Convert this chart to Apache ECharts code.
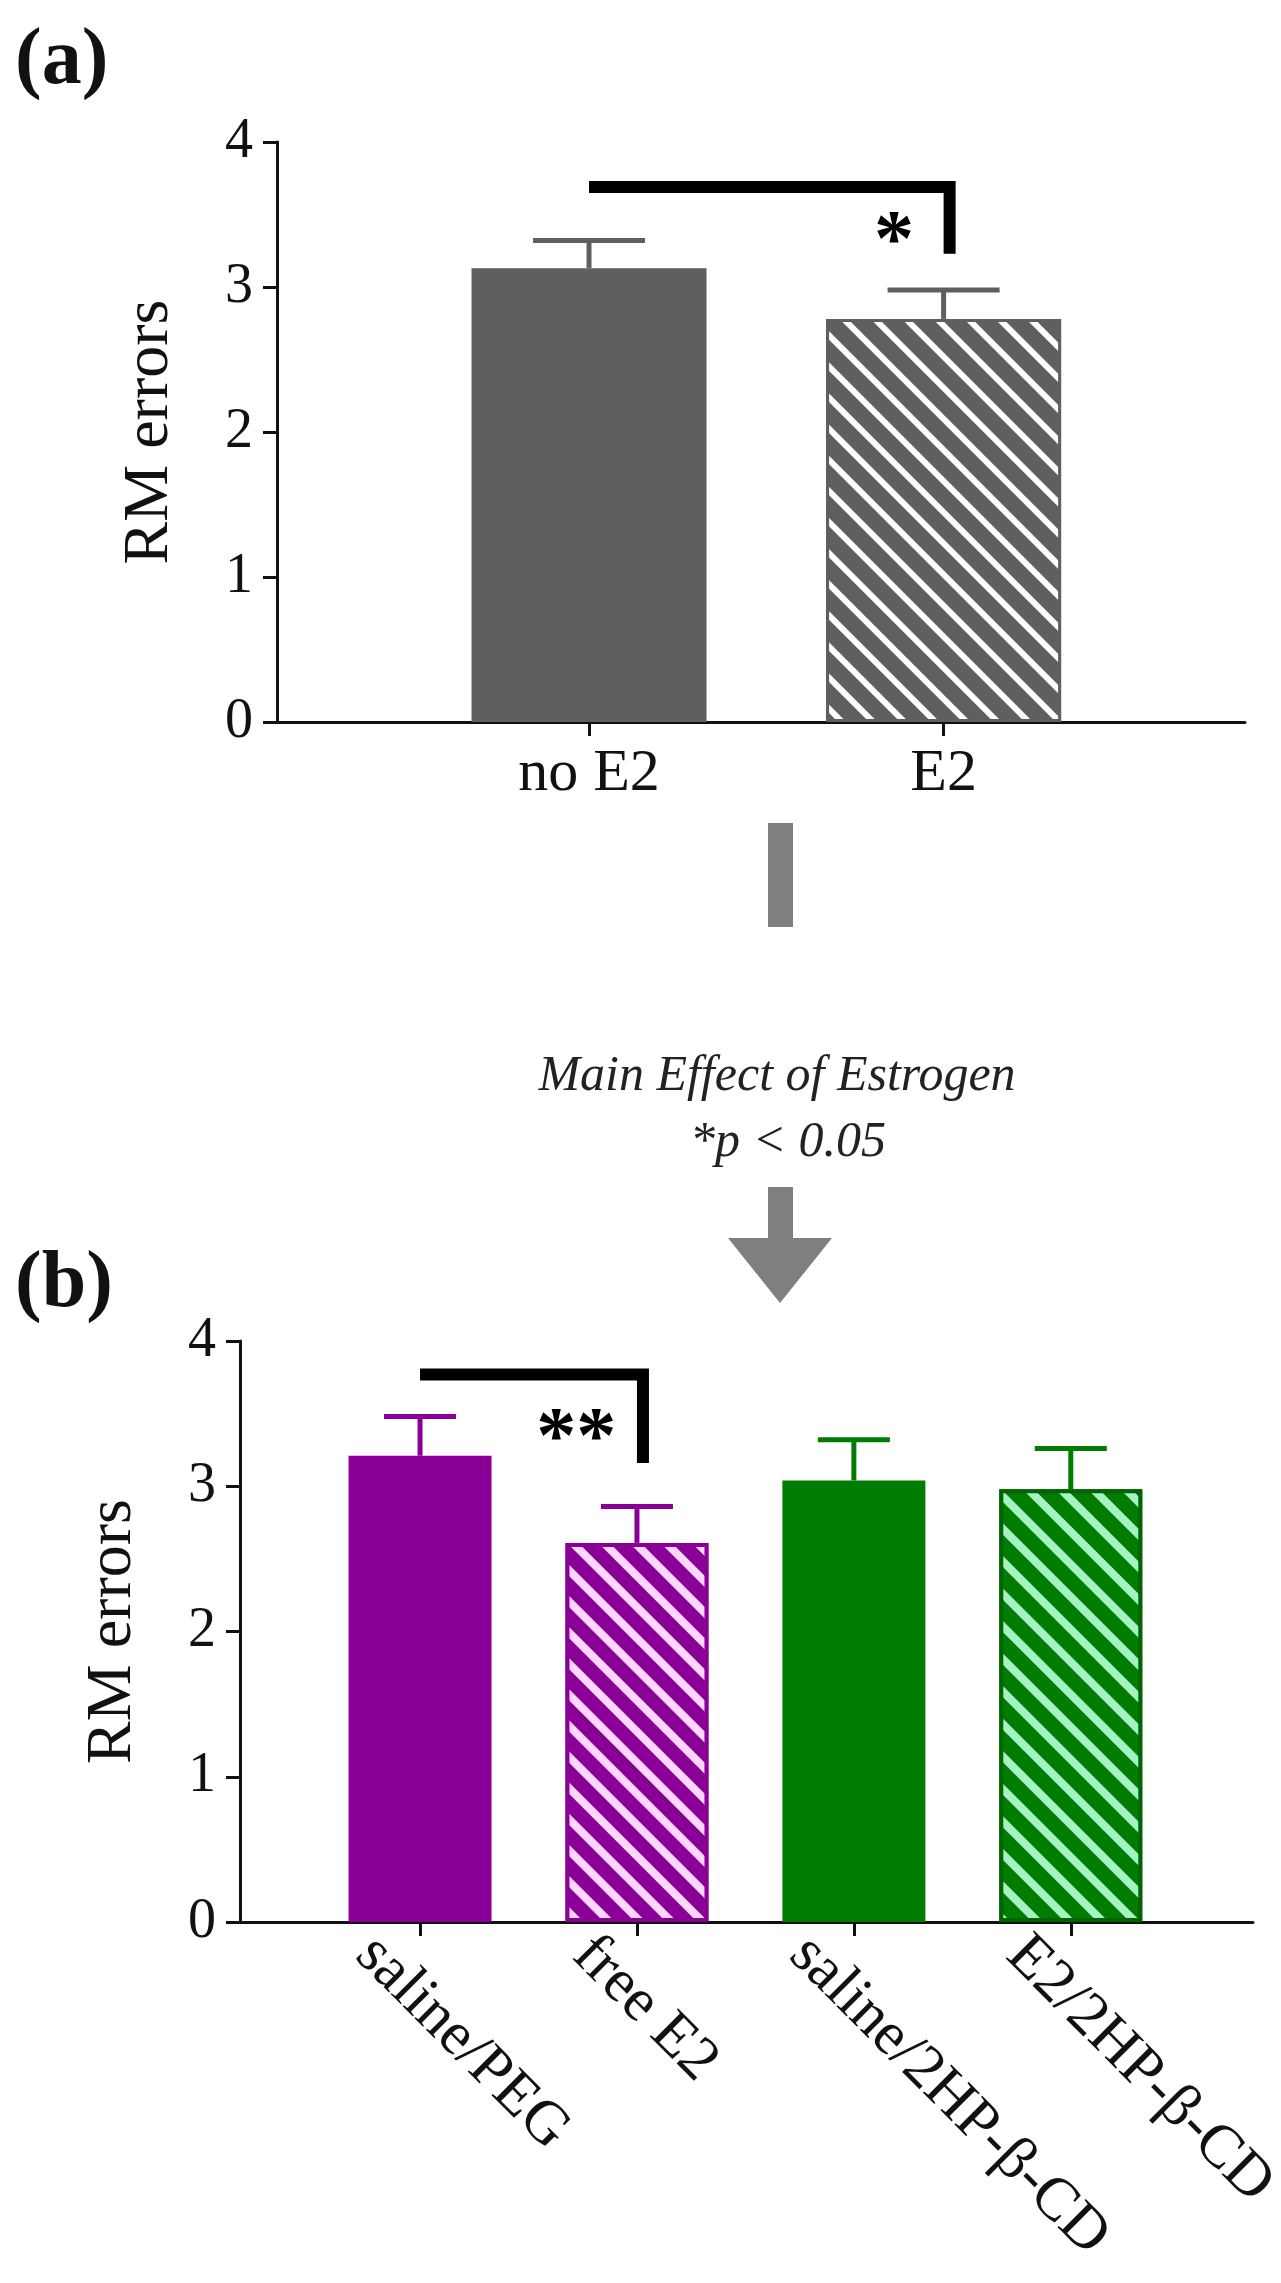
<!DOCTYPE html>
<html>
<head>
<meta charset="utf-8">
<script src="https://cdn.jsdelivr.net/npm/echarts@6/dist/echarts.min.js"></script>
<style>
  html, body { margin: 0; padding: 0; background: #fff; }
  #chart { width: 1281px; height: 2283px; }
</style>
</head>
<body>
<div id="chart"></div>
<script>
// panel (a)
var groupsA = ['no E2', 'E2'];
var meansA = [3.13, 2.78];
var errTopA = [3.32, 2.98];
// bracket: from group, to group, top value, drop value
var bracketA = [0, 1, 3.69, 3.23];
// star: text, x (group units), y
var starA = ['*', 0.86, 3.43];

// panel (b)
var groupsB = ['saline/PEG', 'free E2', 'saline/2HP-β-CD', 'E2/2HP-β-CD'];
var meansB = [3.21, 2.61, 3.04, 2.98];
var errTopB = [3.48, 2.86, 3.32, 3.26];
var bracketB = [0, 1, 3.77, 3.16];
var starB = ['**', 0.72, 3.45];

var yTicks = [0, 1, 2, 3, 4];

var FONT = "'Liberation Serif', 'Times New Roman', serif";
var INK = '#111';
var GRAY = '#5f5f5f', PURPLE = '#8a0096', GREEN = '#007d00', ARROW = '#7f7f7f';

function stripes(color, w, gap) {
	return {
		symbol: 'rect', symbolSize: 1, color: color,
		dashArrayX: [1, 0], dashArrayY: [w, gap],
		rotation: Math.PI / 4
	};
}

var styleA = [
	{ color: GRAY },
	{ color: GRAY, borderColor: GRAY, borderWidth: 3, decal: stripes('#ffffff', 6, 16) }
];
var styleB = [
	{ color: PURPLE },
	{ color: PURPLE, borderColor: PURPLE, borderWidth: 4, decal: stripes('#ffd6ff', 8, 14) },
	{ color: GREEN },
	{ color: GREEN, borderColor: '#006400', borderWidth: 4, decal: stripes('#a6f2c2', 8, 15) }
];
var errColA = [GRAY, GRAY];
var errColB = [PURPLE, PURPLE, GREEN, GREEN];

function idxOf(arr) {
	return arr.map(function (c, i) { return i; });
}

function xAxisFor(gi, cats, min, max, showLabel) {
	return {
		type: 'value', gridIndex: gi, min: min, max: max,
		axisLine: { show: true, onZero: false, lineStyle: { color: INK, width: 3 } },
		axisTick: { show: true, length: 14, customValues: idxOf(cats), lineStyle: { color: INK, width: 3 } },
		axisLabel: {
			show: showLabel, customValues: idxOf(cats),
			formatter: function (v) { return cats[v] || ''; },
			fontFamily: FONT, fontSize: 60, color: INK, margin: 22
		},
		splitLine: { show: false }
	};
}

function yAxisFor(gi) {
	return {
		type: 'value', gridIndex: gi,
		min: yTicks[0], max: yTicks[yTicks.length - 1], interval: yTicks[1] - yTicks[0],
		axisLine: { show: true, onZero: false, lineStyle: { color: INK, width: 3 } },
		axisTick: { show: true, length: 14, lineStyle: { color: INK, width: 3 } },
		axisLabel: { fontFamily: FONT, fontSize: 56, color: INK, margin: 24 },
		splitLine: { show: false },
		name: 'RM errors', nameLocation: 'middle', nameGap: 95, nameRotate: 90,
		nameTextStyle: { fontFamily: FONT, fontSize: 64, color: INK }
	};
}

function barSeries(gi, means, styles, width) {
	return {
		type: 'bar', xAxisIndex: gi, yAxisIndex: gi, barWidth: width, z: 2,
		data: means.map(function (v, i) { return { value: [i, v], itemStyle: styles[i] }; })
	};
}

function errorSeries(gi, means, tops, colors, capHalf) {
	return {
		type: 'custom', xAxisIndex: gi, yAxisIndex: gi, z: 3,
		data: means.map(function (v, i) { return [i, v, tops[i]]; }),
		renderItem: function (params, api) {
			var i = params.dataIndex;
			var base = api.coord([api.value(0), api.value(1)]);
			var top = api.coord([api.value(0), api.value(2)]);
			var st = { stroke: colors[i], lineWidth: 5 };
			return {
				type: 'group',
				children: [
					{ type: 'line', shape: { x1: base[0], y1: base[1], x2: top[0], y2: top[1] }, style: st },
					{ type: 'line', shape: { x1: top[0] - capHalf, y1: top[1], x2: top[0] + capHalf, y2: top[1] }, style: st }
				]
			};
		}
	};
}

function bracketSeries(gi, br, star) {
	return {
		type: 'custom', xAxisIndex: gi, yAxisIndex: gi, z: 4,
		data: [[br[0], br[1], br[2], br[3], star[1], star[2]]],
		renderItem: function (params, api) {
			var a = api.coord([api.value(0), api.value(2)]);
			var b = api.coord([api.value(1), api.value(2)]);
			var c = api.coord([api.value(1), api.value(3)]);
			var s = api.coord([api.value(4), api.value(5)]);
			return {
				type: 'group',
				children: [
					{
						type: 'polyline',
						shape: { points: [a, [b[0] + 6, b[1]], [c[0] + 6, c[1]]] },
						style: { stroke: '#000', lineWidth: 12, fill: null, lineJoin: 'miter' }
					},
					{
						type: 'text', x: s[0], y: s[1] + 20,
						style: { text: star[0], font: 'bold 80px ' + FONT, fill: '#000', align: 'center', verticalAlign: 'middle' }
					}
				]
			};
		}
	};
}

// slanted group names under panel (b)
var labelsB = {
	type: 'custom', xAxisIndex: 1, yAxisIndex: 1, z: 5,
	data: groupsB.map(function (g, i) { return [i, 0]; }),
	renderItem: function (params, api) {
		var p = api.coord([api.value(0), 0]);
		return {
			type: 'text', x: p[0] - 55, y: p[1] + 24, rotation: -Math.PI / 4,
			style: { text: groupsB[params.dataIndex], font: '61px ' + FONT, fill: INK, align: 'left', verticalAlign: 'middle' }
		};
	}
};

var chart = echarts.init(document.getElementById('chart'));
chart.setOption({
	animation: false,
	backgroundColor: '#fff',
	grid: [
		{ left: 277, top: 142, width: 968, height: 580 },
		{ left: 240, top: 1341, width: 1013, height: 581 }
	],
	xAxis: [
		xAxisFor(0, groupsA, -0.88, 1.85, true),
		xAxisFor(1, groupsB, -0.83, 3.84, false)
	],
	yAxis: [yAxisFor(0), yAxisFor(1)],
	series: [
		barSeries(0, meansA, styleA, 235),
		errorSeries(0, meansA, errTopA, errColA, 56),
		bracketSeries(0, bracketA, starA),
		barSeries(1, meansB, styleB, 143),
		errorSeries(1, meansB, errTopB, errColB, 36),
		bracketSeries(1, bracketB, starB),
		labelsB
	],
	graphic: [
		{ type: 'text', left: 15, top: 22, style: { text: '(a)', font: 'bold 80px ' + FONT, fill: INK } },
		{ type: 'text', left: 15, top: 1245, style: { text: '(b)', font: 'bold 80px ' + FONT, fill: INK } },
		{ type: 'rect', shape: { x: 768, y: 823, width: 25, height: 104 }, style: { fill: ARROW } },
		{ type: 'text', x: 777, y: 1077, style: { text: 'Main Effect of Estrogen', font: 'italic 50px ' + FONT, fill: '#222', align: 'center', verticalAlign: 'middle' } },
		{ type: 'text', x: 788, y: 1143, style: { text: '*p < 0.05', font: 'italic 50px ' + FONT, fill: '#222', align: 'center', verticalAlign: 'middle' } },
		{ type: 'rect', shape: { x: 768, y: 1187, width: 25, height: 52 }, style: { fill: ARROW } },
		{ type: 'polygon', shape: { points: [[728, 1238], [832, 1238], [780, 1303]] }, style: { fill: ARROW } }
	]
});
</script>
</body>
</html>
